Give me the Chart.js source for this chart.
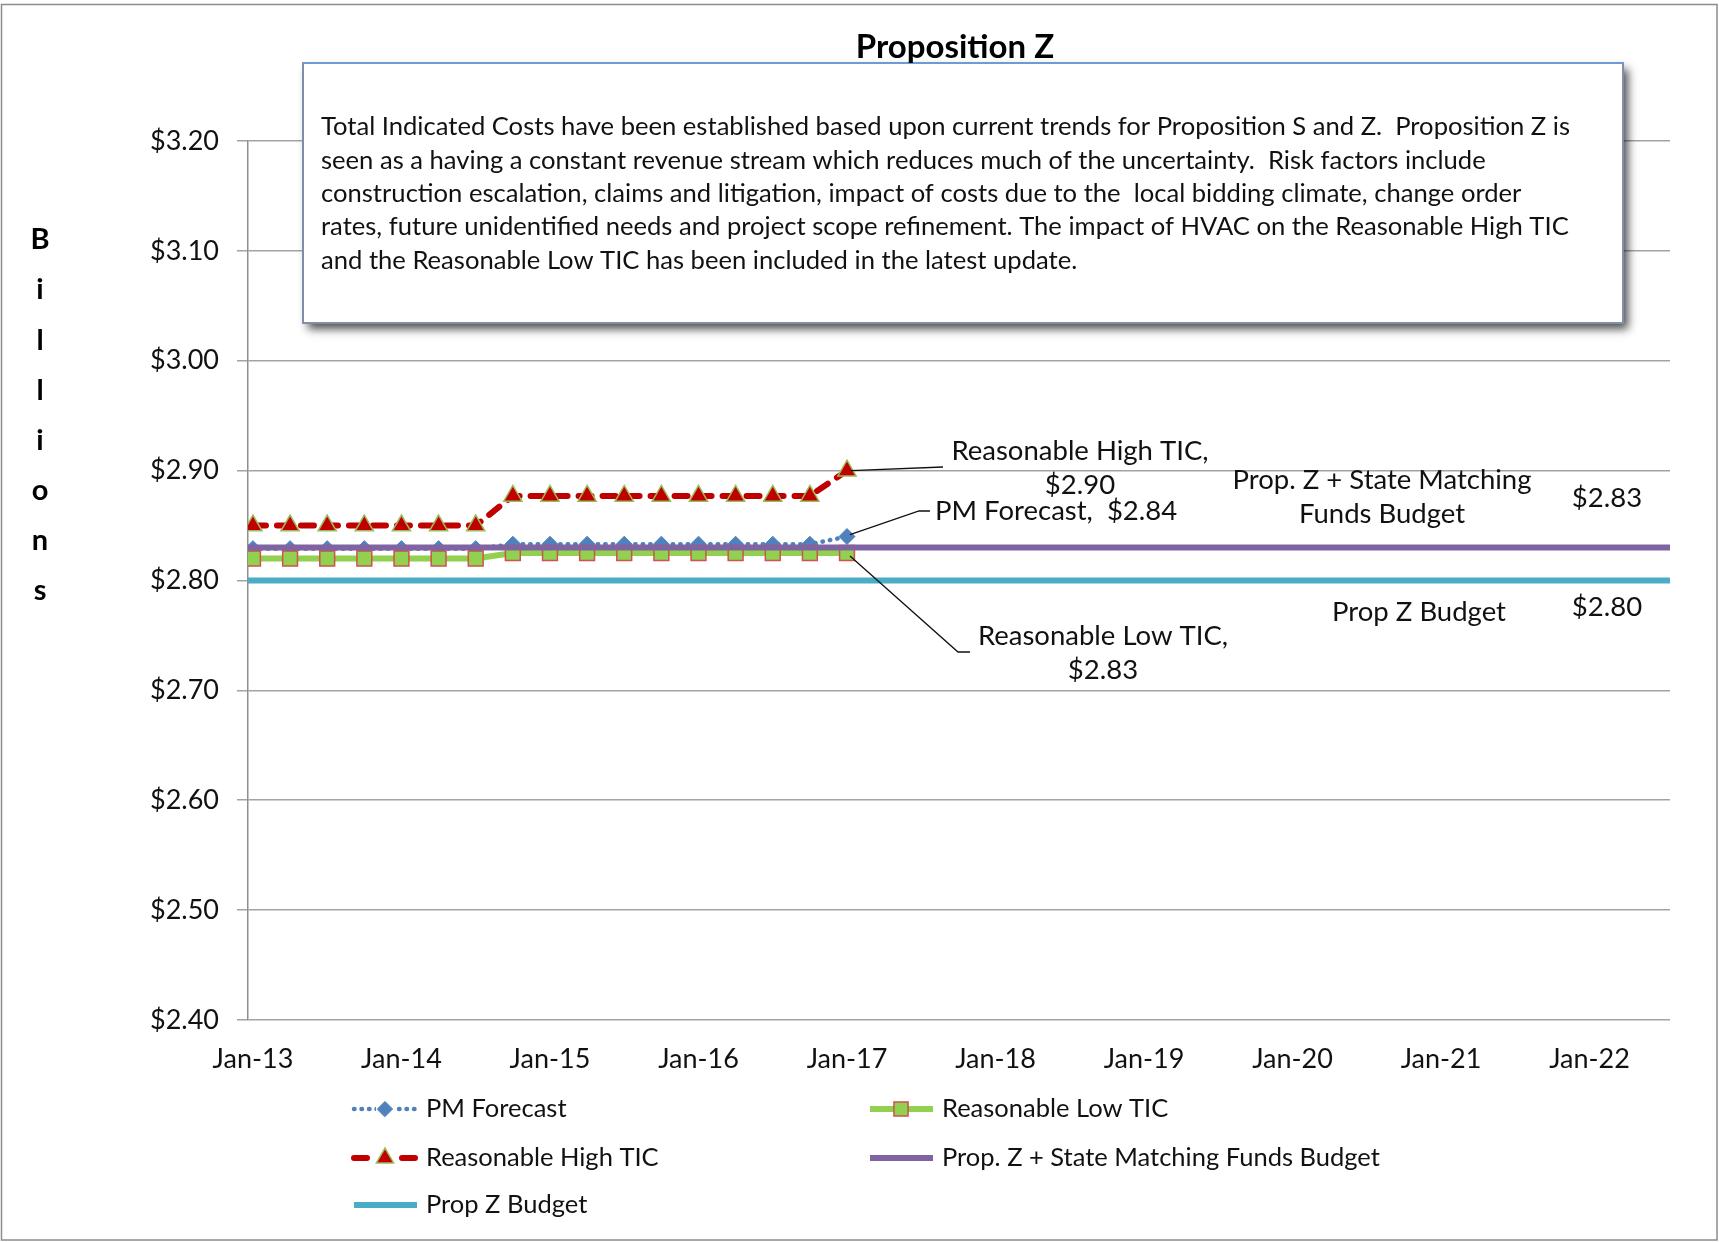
<!DOCTYPE html>
<html>
<head>
<meta charset="utf-8">
<title>Proposition Z</title>
<script src="https://cdn.jsdelivr.net/npm/chart.js@4.4.1/dist/chart.umd.min.js"></script>
<style>
  html, body { margin: 0; padding: 0; background: #fff; }
  #wrap { width: 1719px; height: 1242px; position: relative; }
</style>
</head>
<body>
<div id="wrap"><canvas id="propZ" width="1719" height="1242"></canvas></div>
<script>
// months counted from Jan-13, one point per quarter
const quarterMonths = [0, 3, 6, 9, 12, 15, 18, 21, 24, 27, 30, 33, 36, 39, 42, 45, 48];
const pmForecast = [2.829, 2.829, 2.829, 2.829, 2.829, 2.829, 2.829, 2.833, 2.833, 2.833, 2.833, 2.833, 2.833, 2.833, 2.833, 2.833, 2.84];
const lowTic     = [2.82, 2.82, 2.82, 2.82, 2.82, 2.82, 2.82, 2.825, 2.825, 2.825, 2.825, 2.825, 2.825, 2.825, 2.825, 2.825, 2.825];
const highTic    = [2.85, 2.85, 2.85, 2.85, 2.85, 2.85, 2.85, 2.877, 2.877, 2.877, 2.877, 2.877, 2.877, 2.877, 2.877, 2.877, 2.90];

// budget lines run the whole axis
const xMin = -0.4, xMax = 114.5;
const budgetMonths = [xMin, xMax];
const stateMatchBudget = [2.83, 2.83];
const propZBudget = [2.80, 2.80];

const tickMonths = [0, 12, 24, 36, 48, 60, 72, 84, 96, 108];
const tickLabels = ['Jan-13', 'Jan-14', 'Jan-15', 'Jan-16', 'Jan-17', 'Jan-18', 'Jan-19', 'Jan-20', 'Jan-21', 'Jan-22'];

const boxText = [
    'Total Indicated Costs have been established based upon current trends for Proposition S and Z.  Proposition Z is',
    'seen as a having a constant revenue stream which reduces much of the uncertainty.  Risk factors include',
    'construction escalation, claims and litigation, impact of costs due to the  local bidding climate, change order',
    'rates, future unidentified needs and project scope refinement. The impact of HVAC on the Reasonable High TIC',
    'and the Reasonable Low TIC has been included in the latest update.'
];

function pts(xs, ys) {
    return xs.map((x, i) => ({ x: x, y: ys[i] }));
}

const FONT = 'Lato, "Open Sans", sans-serif';
const TEXT = '#111';

const datasets = [
    {
        label: 'PM Forecast',
        data: pts(quarterMonths, pmForecast),
        borderColor: '#4F81BD', borderWidth: 4.5, borderDash: [0.5, 7], borderCapStyle: 'round',
        pointStyle: 'rectRot', pointRadius: 8, pointBackgroundColor: '#4F81BD', pointBorderColor: '#4F81BD', pointBorderWidth: 1,
        order: 5
    },
    {
        label: 'Reasonable Low TIC',
        data: pts(quarterMonths, lowTic),
        borderColor: '#92D050', borderWidth: 6,
        pointStyle: 'rect', pointRadius: 10.5, pointBackgroundColor: '#92D050', pointBorderColor: '#D0524E', pointBorderWidth: 1.5,
        order: 4
    },
    {
        label: 'Reasonable High TIC',
        data: pts(quarterMonths, highTic),
        borderColor: '#C00000', borderWidth: 6, borderDash: [13, 11], borderCapStyle: 'round',
        pointStyle: 'triangle', pointRadius: 10.5, pointBackgroundColor: '#C00000', pointBorderColor: '#9BBB59', pointBorderWidth: 1.5,
        order: 3
    },
    {
        label: 'Prop. Z + State Matching Funds Budget',
        data: pts(budgetMonths, stateMatchBudget),
        borderColor: '#8064A2', borderWidth: 6, pointRadius: 0,
        order: 2
    },
    {
        label: 'Prop Z Budget',
        data: pts(budgetMonths, propZBudget),
        borderColor: '#4BACC6', borderWidth: 6, pointRadius: 0,
        order: 1
    }
];

// legend slots: [dataset index, sample left, row y]
const legendSlots = [
    [0, 351, 1109], [1, 867, 1109],
    [2, 351, 1158], [3, 867, 1158],
    [4, 351, 1205]
];

function drawLegendItem(ctx, ds, x, y) {
    ctx.save();
    ctx.strokeStyle = ds.borderColor;
    ctx.lineWidth = ds.borderWidth;
    ctx.lineCap = ds.borderCapStyle || 'butt';
    ctx.setLineDash(ds.borderDash || []);
    ctx.beginPath();
    ctx.moveTo(x + 3, y);
    ctx.lineTo(x + 66, y);
    ctx.stroke();
    ctx.setLineDash([]);
    if (ds.pointRadius) {
        // clear a little room round the marker like Excel does
        if (ds.borderDash) {
            ctx.fillStyle = '#fff';
            ctx.fillRect(x + 34 - ds.pointRadius - 1, y - 5, ds.pointRadius * 2 + 2, 10);
        }
        ctx.fillStyle = ds.pointBackgroundColor;
        ctx.strokeStyle = ds.pointBorderColor;
        ctx.lineWidth = ds.pointBorderWidth;
        Chart.helpers.drawPoint(ctx, {
            pointStyle: ds.pointStyle, radius: ds.pointRadius * 0.95,
            borderWidth: ds.pointBorderWidth, rotation: 0
        }, x + 34, y);
    }
    ctx.fillStyle = TEXT;
    ctx.font = '25.5px ' + FONT;
    ctx.textAlign = 'left';
    ctx.textBaseline = 'middle';
    ctx.fillText(ds.label, x + 75, y);
    ctx.restore();
}

function leader(ctx, p) {
    ctx.beginPath();
    ctx.moveTo(p[0][0], p[0][1]);
    for (let i = 1; i < p.length; i++) ctx.lineTo(p[i][0], p[i][1]);
    ctx.stroke();
}

const decor = {
    id: 'decor',
    afterDraw(chart) {
        const ctx = chart.ctx;
        ctx.save();

        // leader lines from the last points
        const lastOf = (i) => {
            const d = chart.getDatasetMeta(i).data;
            return d[d.length - 1];
        };
        const hi = lastOf(2), pm = lastOf(0), lo = lastOf(1);
        ctx.strokeStyle = '#111';
        ctx.lineWidth = 1.3;
        leader(ctx, [[hi.x + 4, hi.y], [943, 467]]);
        leader(ctx, [[pm.x + 3, pm.y - 2], [919, 511], [930, 511]]);
        leader(ctx, [[lo.x + 3, lo.y + 3], [958, 652], [970, 652]]);

        // data labels
        ctx.fillStyle = TEXT;
        ctx.font = '27.5px ' + FONT;
        ctx.textBaseline = 'middle';
        ctx.textAlign = 'center';
        ctx.fillText('Reasonable High TIC,', 1080, 451);
        ctx.fillText('$2.90', 1080, 485);
        ctx.fillText('Reasonable Low TIC,', 1103, 636);
        ctx.fillText('$2.83', 1103, 670);
        ctx.fillText('Prop. Z + State Matching', 1382, 480);
        ctx.fillText('Funds Budget', 1382, 514);
        ctx.fillText('$2.83', 1607, 498);
        ctx.fillText('Prop Z Budget', 1419, 612);
        ctx.fillText('$2.80', 1607, 607);
        ctx.textAlign = 'left';
        ctx.fillText('PM Forecast,  $2.84', 935, 511);

        // legend
        legendSlots.forEach(s => drawLegendItem(ctx, chart.data.datasets[s[0]], s[1], s[2]));

        // note box
        ctx.save();
        ctx.shadowColor = 'rgba(0,0,0,0.7)';
        ctx.shadowBlur = 9;
        ctx.shadowOffsetX = 5;
        ctx.shadowOffsetY = 6;
        ctx.fillStyle = '#fff';
        ctx.fillRect(303, 63, 1320, 260);
        ctx.restore();
        ctx.strokeStyle = '#7f8fa8';
        ctx.lineWidth = 2;
        ctx.strokeRect(303, 63, 1320, 260);
        ctx.strokeStyle = '#6f9bd3';
        ctx.beginPath();
        ctx.moveTo(303, 63);
        ctx.lineTo(1623, 63);
        ctx.stroke();
        ctx.fillStyle = TEXT;
        ctx.font = '25.6px ' + FONT;
        ctx.textAlign = 'left';
        boxText.forEach((t, i) => ctx.fillText(t, 321, 127 + i * 33.4));

        // title
        ctx.font = 'bold 33px ' + FONT;
        ctx.textAlign = 'center';
        ctx.fillStyle = '#000';
        ctx.fillText('Proposition Z', 955, 47);

        // stacked axis title
        ctx.font = 'bold 29px ' + FONT;
        'Billions'.split('').forEach((c, i) => ctx.fillText(c, 40, 240 + i * 50.1));

        // outer frame
        ctx.strokeStyle = '#8c8c8c';
        ctx.lineWidth = 1.5;
        ctx.strokeRect(1.5, 4.5, 1715.5, 1235.5);
        ctx.restore();
    }
};

new Chart(document.getElementById('propZ'), {
    type: 'line',
    data: { datasets: datasets },
    plugins: [decor],
    options: {
        responsive: false,
        devicePixelRatio: 1,
        animation: false,
        layout: { padding: { left: 0, top: 141, right: 49, bottom: 0 } },
        plugins: {
            legend: { display: false },
            title: { display: false },
            tooltip: { enabled: false }
        },
        elements: { line: { tension: 0 } },
        scales: {
            x: {
                type: 'linear',
                min: xMin,
                max: xMax,
                afterBuildTicks: (scale) => { scale.ticks = tickMonths.map(v => ({ value: v })); },
                afterFit: (scale) => { scale.height = 222; },
                grid: { display: false, drawTicks: false },
                border: { display: false },
                ticks: {
                    padding: 23,
                    maxRotation: 0,
                    autoSkip: false,
                    color: TEXT,
                    font: { family: FONT, size: 27 },
                    callback: (v) => tickLabels[tickMonths.indexOf(v)]
                }
            },
            y: {
                min: 2.4,
                max: 3.2,
                afterFit: (scale) => { scale.width = 248; },
                grid: { color: '#a3a3a3', lineWidth: 1.5, tickLength: 11 },
                border: { display: true, color: '#8e8e8e', width: 1.5 },
                ticks: {
                    stepSize: 0.1,
                    padding: 18,
                    color: TEXT,
                    font: { family: FONT, size: 27 },
                    callback: (v) => '$' + Number(v).toFixed(2)
                }
            }
        }
    }
});
</script>
</body>
</html>
